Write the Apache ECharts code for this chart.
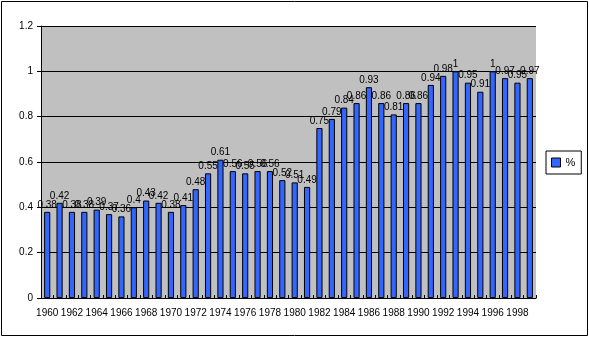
<!DOCTYPE html>
<html>
<head>
<meta charset="utf-8">
<script src="https://cdn.jsdelivr.net/npm/echarts@6/dist/echarts.min.js"></script>
<style>html,body{margin:0;padding:0;background:#fff;}#c{width:589px;height:339px;}</style>
</head>
<body>
<div id="c"></div>
<script>
var years = ['1960','1961','1962','1963','1964','1965','1966','1967','1968','1969','1970','1971','1972','1973','1974','1975','1976','1977','1978','1979','1980','1981','1982','1983','1984','1985','1986','1987','1988','1989','1990','1991','1992','1993','1994','1995','1996','1997','1998','1999'];
var values = [0.38,0.42,0.38,0.38,0.39,0.37,0.36,0.4,0.43,0.42,0.38,0.41,0.48,0.55,0.61,0.56,0.55,0.56,0.56,0.52,0.51,0.49,0.75,0.79,0.84,0.86,0.93,0.86,0.81,0.86,0.86,0.94,0.98,1,0.95,0.91,1,0.97,0.95,0.97];
var seriesName = '%';
var chart = echarts.init(document.getElementById('c'), null, {renderer:'canvas'});
var font = 'Liberation Sans, Arial, sans-serif';
chart.setOption({
  animation:false,
  textStyle:{fontFamily:font},
  graphic:[{type:'rect',shape:{x:1.5,y:1.5,width:586,height:334},style:{fill:null,stroke:'#000',lineWidth:1},z:-1}],
  grid:{left:41,top:26,right:53,bottom:41,show:true,backgroundColor:'#C0C0C0',borderWidth:0},
  legend:{data:[seriesName],left:546,top:151,orient:'vertical',borderColor:'#000',borderWidth:1,padding:[6,6,6,5],
    itemWidth:9,itemHeight:9,itemGap:0,textStyle:{fontSize:11,color:'#000',fontFamily:font},
    itemStyle:{borderColor:'#000',borderWidth:1}, icon:'rect'},
  xAxis:{type:'category',data:years,
    axisLine:{lineStyle:{color:'#000',width:1}},
    axisTick:{show:true,inside:true,length:3,interval:0,lineStyle:{color:'#000'}},
    axisLabel:{interval:1,color:'#000',fontSize:10,margin:10,fontFamily:font}},
  yAxis:{type:'value',min:0,max:1.2,interval:0.2,
    axisLine:{show:true,lineStyle:{color:'#000',width:1}},
    axisTick:{show:true,length:4,lineStyle:{color:'#000'}},
    axisLabel:{color:'#000',fontSize:10,margin:8,fontFamily:font},
    splitLine:{show:true,lineStyle:{color:'#000',width:1}}},
  series:[{name:seriesName,type:'bar',data:values,barCategoryGap:'50%',
    itemStyle:{color:'#3366FF',borderColor:'#000',borderWidth:1},
    label:{show:true,position:'top',distance:2,color:'#000',fontSize:10,fontFamily:font}}]
});
</script>
</body>
</html>
